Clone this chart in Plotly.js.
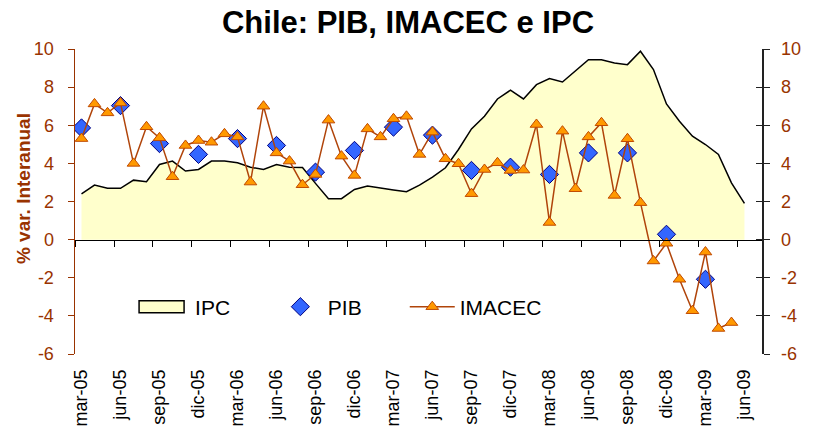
<!DOCTYPE html>
<html>
<head>
<meta charset="utf-8">
<script src="https://cdn.plot.ly/plotly-3.0.1.min.js"></script>
<style>html,body{margin:0;padding:0;background:#fff;}#chart{width:816px;height:427px;}</style>
</head>
<body>
<div id="chart"></div>
<script>
// Months (categories)
const months = [
  'mar-05','abr-05','may-05','jun-05','jul-05','ago-05','sep-05','oct-05','nov-05','dic-05',
  'ene-06','feb-06','mar-06','abr-06','may-06','jun-06','jul-06','ago-06','sep-06','oct-06','nov-06','dic-06',
  'ene-07','feb-07','mar-07','abr-07','may-07','jun-07','jul-07','ago-07','sep-07','oct-07','nov-07','dic-07',
  'ene-08','feb-08','mar-08','abr-08','may-08','jun-08','jul-08','ago-08','sep-08','oct-08','nov-08','dic-08',
  'ene-09','feb-09','mar-09','abr-09','may-09','jun-09'
];

// IPC (% var. interanual), monthly
const ipc = [
  2.4, 2.86, 2.69, 2.69, 3.12, 3.04, 3.94, 4.12, 3.6, 3.68,
  4.12, 4.12, 4.03, 3.8, 3.68, 3.94, 3.8, 3.78, 2.95, 2.15, 2.15, 2.63,
  2.81, 2.69, 2.6, 2.51, 2.86, 3.28, 3.77, 4.73, 5.81, 6.47, 7.38, 7.84,
  7.38, 8.13, 8.45, 8.27, 8.88, 9.44, 9.44, 9.27, 9.18, 9.88, 8.92, 7.12,
  6.21, 5.43, 4.99, 4.47, 2.98, 1.9
];

// IMACEC (% var. interanual), monthly
const imacec = [
  5.3, 7.12, 6.65, 7.17, 4.0, 5.92, 5.34, 3.3, 4.94, 5.2,
  5.11, 5.55, 5.39, 3.02, 7.0, 4.55, 4.12, 2.88, 3.42, 6.27, 4.38, 3.37,
  5.81, 5.39, 6.34, 6.47, 4.47, 5.64, 4.24, 3.98, 2.41, 3.68, 4.03, 3.63,
  3.65, 6.04, 0.9, 5.69, 2.67, 5.39, 6.13, 2.32, 5.29, 1.94, -1.12, -0.19,
  -2.08, -3.73, -0.65, -4.66, -4.35, null
];

// PIB (% var. interanual), quarterly
const pibMonths = ['mar-05','jun-05','sep-05','dic-05','mar-06','jun-06','sep-06','dic-06',
  'mar-07','jun-07','sep-07','dic-07','mar-08','jun-08','sep-08','dic-08','mar-09'];
const pib = [5.86, 7.03, 5.04, 4.47, 5.3, 4.94, 3.54, 4.68, 5.9, 5.48, 3.63, 3.8, 3.42, 4.55, 4.55, 0.28, -2.08];

// Value-axis ticks
const yTickVals = [-6, -4, -2, 0, 2, 4, 6, 8, 10];
const yTickText = ['-6', '-4', '-2', '0', '2', '4', '6', '8', '10'];

const yRange = [-6, 10];
const brown = '#993300';
const fontFam = 'Liberation Sans, Arial, Helvetica, sans-serif';

const traces = [
  {
    name: 'IPC', type: 'scatter', mode: 'lines', x: months, y: ipc,
    xaxis: 'x', yaxis: 'y', legend: 'legend',
    line: {color: '#000000', width: 1.5},
    fill: 'tozeroy', fillcolor: '#FFFFCC'
  },
  {
    name: 'PIB', type: 'scatter', mode: 'markers', x: pibMonths, y: pib,
    xaxis: 'x2', yaxis: 'y', legend: 'legend2',
    marker: {symbol: 'diamond', size: 14, color: '#3366FF', line: {color: '#000080', width: 1}}
  },
  {
    name: 'IMACEC', type: 'scatter', mode: 'lines+markers', x: months, y: imacec,
    xaxis: 'x2', yaxis: 'y', legend: 'legend3',
    line: {color: '#B0440A', width: 1.5},
    marker: {symbol: 'triangle-up', size: 11, color: '#FF9900', line: {color: '#C04A00', width: 1}}
  },
  // carriers for the right-hand value axis (draw nothing)
  {x: months, y: ipc, xaxis: 'x', yaxis: 'y2', mode: 'none', showlegend: false, hoverinfo: 'skip'},
  {x: months, y: ipc, xaxis: 'x', yaxis: 'y3', mode: 'none', showlegend: false, hoverinfo: 'skip'}
];

const xr = [-0.5, 52.35];
const zeroPos = (0 - yRange[0]) / (yRange[1] - yRange[0]);

const legendBase = {
  orientation: 'h', xanchor: 'left', y: 0.154, yanchor: 'middle',
  font: {size: 21, color: '#000', family: fontFam}, itemwidth: 45,
  bgcolor: 'rgba(0,0,0,0)'
};

const layout = {
  width: 816, height: 427,
  margin: {l: 75, r: 54, t: 49, b: 73},
  paper_bgcolor: '#ffffff', plot_bgcolor: 'rgba(0,0,0,0)',
  font: {family: fontFam, color: '#000'},
  showlegend: true,
  title: {
    text: '<b>Chile: PIB, IMACEC e IPC</b>',
    font: {size: 31, color: '#000', family: fontFam},
    x: 0.5, xanchor: 'center', yref: 'container', y: 0.948, yanchor: 'middle'
  },
  xaxis: {
    type: 'category', categoryorder: 'array', categoryarray: months,
    range: xr, anchor: 'y',
    tickmode: 'linear', tick0: 0, dtick: 3,
    ticks: '', showline: false, showgrid: false, zeroline: false,
    tickangle: -90, tickfont: {size: 18, color: '#000'}, ticklabelstandoff: 11
  },
  xaxis2: {
    type: 'category', categoryorder: 'array', categoryarray: months,
    range: xr, overlaying: 'x', anchor: 'free', position: zeroPos,
    tickmode: 'linear', tick0: 0, dtick: 3, tickson: 'boundaries',
    ticks: 'outside', ticklen: 6, tickwidth: 1, tickcolor: '#000',
    showticklabels: false, showline: true, linecolor: '#000', linewidth: 1.5,
    showgrid: false, zeroline: false
  },
  yaxis: {
    range: yRange, anchor: 'x', tickmode: 'array', tickvals: yTickVals, ticktext: yTickText,
    ticks: 'outside', ticklen: 6, tickcolor: brown, tickwidth: 1,
    showline: true, linecolor: brown, linewidth: 1.5,
    tickfont: {size: 18, color: brown}, ticklabelstandoff: 10,
    showgrid: false, zeroline: false
  },
  yaxis2: {
    range: yRange, overlaying: 'y', side: 'right', anchor: 'x',
    tickmode: 'array', tickvals: yTickVals, ticktext: yTickText,
    ticks: 'outside', ticklen: 6, tickcolor: '#222', tickwidth: 1,
    showline: true, linecolor: '#222', linewidth: 1.5,
    tickfont: {size: 18, color: brown}, ticklabelstandoff: 8,
    showgrid: false, zeroline: false
  },
  yaxis3: {
    range: yRange, overlaying: 'y', side: 'right', anchor: 'x',
    tickmode: 'array', tickvals: yTickVals,
    ticks: 'inside', ticklen: 6, tickcolor: '#222', tickwidth: 1,
    showticklabels: false, showline: false, showgrid: false, zeroline: false
  },
  legend: Object.assign({}, legendBase, {x: 0.086, itemwidth: 51}),
  legend2: Object.assign({}, legendBase, {x: 0.288}),
  legend3: Object.assign({}, legendBase, {x: 0.48}),
  annotations: [{
    text: '<b>% var. Interanual</b>', textangle: -90,
    xref: 'paper', yref: 'paper', x: -0.0757, y: 0.544,
    xanchor: 'center', yanchor: 'middle', showarrow: false,
    font: {size: 19, color: brown, family: fontFam}
  }]
};

Plotly.newPlot('chart', traces, layout, {displayModeBar: false, staticPlot: true}).then(function (gd) {
  // Area-series legend key drawn as an outlined box, like the original
  gd.querySelectorAll('.legendfill path').forEach(function (p) {
    p.setAttribute('d', 'M5,-6h45v12h-45z');
    p.style.stroke = '#000';
    p.style.strokeWidth = '1.5px';
    var item = p.closest('.traces');
    if (item) item.querySelectorAll('.legendlines path').forEach(function (l) { l.style.display = 'none'; });
  });
});
</script>
</body>
</html>
